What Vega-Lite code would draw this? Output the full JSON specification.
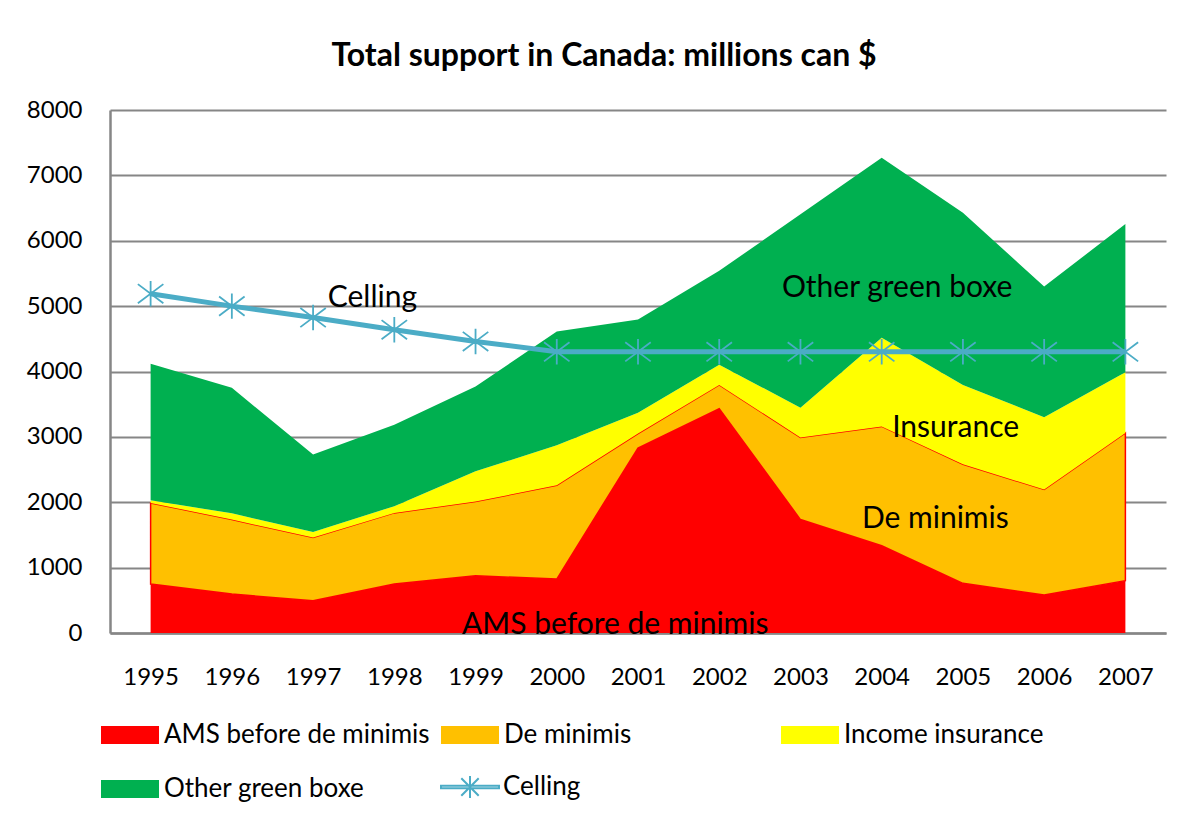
{
  "$schema": "https://vega.github.io/schema/vega-lite/v6.json",
  "autosize": "none",
  "width": 1056,
  "height": 523,
  "padding": {"left": 110, "top": 110, "right": 26, "bottom": 185},
  "background": "white",
  "config": {
    "view": {"stroke": null},
    "font": "Lato",
    "axis": {"labelFont": "Lato", "labelFontSize": 24, "labelColor": "#000000"},
    "legend": {"labelFont": "Lato", "labelFontSize": 26, "labelColor": "#000000"}
  },
  "title": {
    "text": "Total support in Canada: millions can $",
    "font": "Lato",
    "fontSize": 32,
    "fontWeight": "bold",
    "color": "#000000",
    "anchor": "middle",
    "dx": -34,
    "offset": 25
  },
  "resolve": {"scale": {"color": "independent"}, "legend": {"color": "independent"}},
  "datasets": {
    "support": [
      {"year": 1995, "series": "AMS before de minimis", "ord": 1, "value": 750},
      {"year": 1995, "series": "De minimis", "ord": 2, "value": 1240},
      {"year": 1995, "series": "Income insurance", "ord": 3, "value": 40},
      {"year": 1995, "series": "Other green boxe", "ord": 4, "value": 2090},
      {"year": 1996, "series": "AMS before de minimis", "ord": 1, "value": 595},
      {"year": 1996, "series": "De minimis", "ord": 2, "value": 1140},
      {"year": 1996, "series": "Income insurance", "ord": 3, "value": 95},
      {"year": 1996, "series": "Other green boxe", "ord": 4, "value": 1920},
      {"year": 1997, "series": "AMS before de minimis", "ord": 1, "value": 495},
      {"year": 1997, "series": "De minimis", "ord": 2, "value": 965},
      {"year": 1997, "series": "Income insurance", "ord": 3, "value": 85},
      {"year": 1997, "series": "Other green boxe", "ord": 4, "value": 1185},
      {"year": 1998, "series": "AMS before de minimis", "ord": 1, "value": 750},
      {"year": 1998, "series": "De minimis", "ord": 2, "value": 1087},
      {"year": 1998, "series": "Income insurance", "ord": 3, "value": 103},
      {"year": 1998, "series": "Other green boxe", "ord": 4, "value": 1245},
      {"year": 1999, "series": "AMS before de minimis", "ord": 1, "value": 875},
      {"year": 1999, "series": "De minimis", "ord": 2, "value": 1135},
      {"year": 1999, "series": "Income insurance", "ord": 3, "value": 465},
      {"year": 1999, "series": "Other green boxe", "ord": 4, "value": 1295},
      {"year": 2000, "series": "AMS before de minimis", "ord": 1, "value": 825},
      {"year": 2000, "series": "De minimis", "ord": 2, "value": 1435},
      {"year": 2000, "series": "Income insurance", "ord": 3, "value": 610},
      {"year": 2000, "series": "Other green boxe", "ord": 4, "value": 1740},
      {"year": 2001, "series": "AMS before de minimis", "ord": 1, "value": 2830},
      {"year": 2001, "series": "De minimis", "ord": 2, "value": 220},
      {"year": 2001, "series": "Income insurance", "ord": 3, "value": 320},
      {"year": 2001, "series": "Other green boxe", "ord": 4, "value": 1425},
      {"year": 2002, "series": "AMS before de minimis", "ord": 1, "value": 3430},
      {"year": 2002, "series": "De minimis", "ord": 2, "value": 365},
      {"year": 2002, "series": "Income insurance", "ord": 3, "value": 310},
      {"year": 2002, "series": "Other green boxe", "ord": 4, "value": 1435},
      {"year": 2003, "series": "AMS before de minimis", "ord": 1, "value": 1735},
      {"year": 2003, "series": "De minimis", "ord": 2, "value": 1255},
      {"year": 2003, "series": "Income insurance", "ord": 3, "value": 455},
      {"year": 2003, "series": "Other green boxe", "ord": 4, "value": 2960},
      {"year": 2004, "series": "AMS before de minimis", "ord": 1, "value": 1335},
      {"year": 2004, "series": "De minimis", "ord": 2, "value": 1825},
      {"year": 2004, "series": "Income insurance", "ord": 3, "value": 1355},
      {"year": 2004, "series": "Other green boxe", "ord": 4, "value": 2755},
      {"year": 2005, "series": "AMS before de minimis", "ord": 1, "value": 760},
      {"year": 2005, "series": "De minimis", "ord": 2, "value": 1820},
      {"year": 2005, "series": "Income insurance", "ord": 3, "value": 1215},
      {"year": 2005, "series": "Other green boxe", "ord": 4, "value": 2635},
      {"year": 2006, "series": "AMS before de minimis", "ord": 1, "value": 580},
      {"year": 2006, "series": "De minimis", "ord": 2, "value": 1615},
      {"year": 2006, "series": "Income insurance", "ord": 3, "value": 1105},
      {"year": 2006, "series": "Other green boxe", "ord": 4, "value": 2000},
      {"year": 2007, "series": "AMS before de minimis", "ord": 1, "value": 800},
      {"year": 2007, "series": "De minimis", "ord": 2, "value": 2260},
      {"year": 2007, "series": "Income insurance", "ord": 3, "value": 930},
      {"year": 2007, "series": "Other green boxe", "ord": 4, "value": 2265}
    ],
    "ceiling": [
      {"year": 1995, "series": "Celling", "value": 5190},
      {"year": 1996, "series": "Celling", "value": 5000},
      {"year": 1997, "series": "Celling", "value": 4825},
      {"year": 1998, "series": "Celling", "value": 4640},
      {"year": 1999, "series": "Celling", "value": 4460},
      {"year": 2000, "series": "Celling", "value": 4301},
      {"year": 2001, "series": "Celling", "value": 4301},
      {"year": 2002, "series": "Celling", "value": 4301},
      {"year": 2003, "series": "Celling", "value": 4301},
      {"year": 2004, "series": "Celling", "value": 4301},
      {"year": 2005, "series": "Celling", "value": 4301},
      {"year": 2006, "series": "Celling", "value": 4301},
      {"year": 2007, "series": "Celling", "value": 4301}
    ],
    "labels": [
      {"year": 1997.73, "value": 5124, "text": "Celling"},
      {"year": 2004.19, "value": 5277, "text": "Other green boxe"},
      {"year": 2004.91, "value": 3136, "text": "Insurance"},
      {"year": 2004.66, "value": 1744, "text": "De minimis"},
      {"year": 2000.72, "value": 122, "text": "AMS before de minimis"}
    ]
  },
  "encoding": {
    "x": {
      "field": "year",
      "type": "quantitative",
      "scale": {"domain": [1994.5, 2007.5], "nice": false, "zero": false},
      "axis": {
        "title": null,
        "values": [1995, 1996, 1997, 1998, 1999, 2000, 2001, 2002, 2003, 2004, 2005, 2006, 2007],
        "format": "d",
        "grid": false,
        "ticks": false,
        "labelPadding": 32,
        "domainColor": "#868686",
        "domainWidth": 2.5,
        "labelFlush": false,
        "labelOverlap": false
      }
    },
    "y": {
      "field": "value",
      "type": "quantitative",
      "scale": {"domain": [0, 8000], "nice": false},
      "axis": {
        "title": null,
        "values": [0, 1000, 2000, 3000, 4000, 5000, 6000, 7000, 8000],
        "format": "d",
        "grid": true,
        "gridColor": "#868686",
        "gridWidth": 2,
        "ticks": false,
        "labelPadding": 28,
        "domainColor": "#868686",
        "domainWidth": 2.5,
        "labelFlush": false,
        "labelOverlap": false
      }
    }
  },
  "layer": [
    {
      "data": {"name": "support"},
      "mark": {"type": "area", "strokeWidth": 1.5, "opacity": 1},
      "encoding": {
        "y": {"field": "value", "type": "quantitative", "stack": "zero"},
        "color": {
          "field": "series",
          "type": "nominal",
          "scale": {
            "domain": ["AMS before de minimis", "De minimis", "Income insurance", "Other green boxe"],
            "range": ["#FF0000", "#FFC000", "#FFFF00", "#00B050"]
          },
          "legend": {
            "title": null,
            "orient": "none",
            "legendX": -9,
            "legendY": 596,
            "direction": "horizontal",
            "columns": 3,
            "gridAlign": "all",
            "columnPadding": 11,
            "rowPadding": 12,
            "labelOffset": 5,
            "symbolSize": 3364,
            "symbolType": "M-1,-0.31H1V0.31H-1Z",
            "symbolStrokeWidth": 0,
            "labelLimit": 400
          }
        },
        "order": {"field": "ord", "type": "quantitative"},
        "stroke": {
          "condition": {"test": "datum.series === 'De minimis'", "value": "#FF0000"},
          "value": "transparent"
        }
      }
    },
    {
      "data": {"name": "ceiling"},
      "mark": {"type": "line", "strokeWidth": 5},
      "encoding": {
        "color": {
          "field": "series",
          "type": "nominal",
          "scale": {"domain": ["Celling"], "range": ["#4BACC6"]},
          "legend": {
            "title": null,
            "orient": "none",
            "legendX": 330,
            "legendY": 647,
            "labelOffset": 3,
            "symbolSize": 3364,
            "symbolType": "M-1,-0.045H1V0.045H-1Z M0,-0.38V0.38 M-0.3,-0.3L0.3,0.3 M-0.3,0.3L0.3,-0.3",
            "symbolStrokeWidth": 2,
            "labelLimit": 400
          }
        }
      }
    },
    {
      "data": {"name": "ceiling"},
      "mark": {
        "type": "point",
        "shape": "M0,-1V1M-1,-0.75L1,0.75M-1,0.75L1,-0.75",
        "size": 650,
        "filled": false,
        "stroke": "#4BACC6",
        "strokeWidth": 1.8,
        "opacity": 1
      },
      "encoding": {}
    },
    {
      "data": {"name": "labels"},
      "mark": {"type": "text", "font": "Lato", "fontSize": 30, "color": "#000000", "align": "center", "baseline": "middle"},
      "encoding": {
        "text": {"field": "text", "type": "nominal"}
      }
    }
  ]
}
